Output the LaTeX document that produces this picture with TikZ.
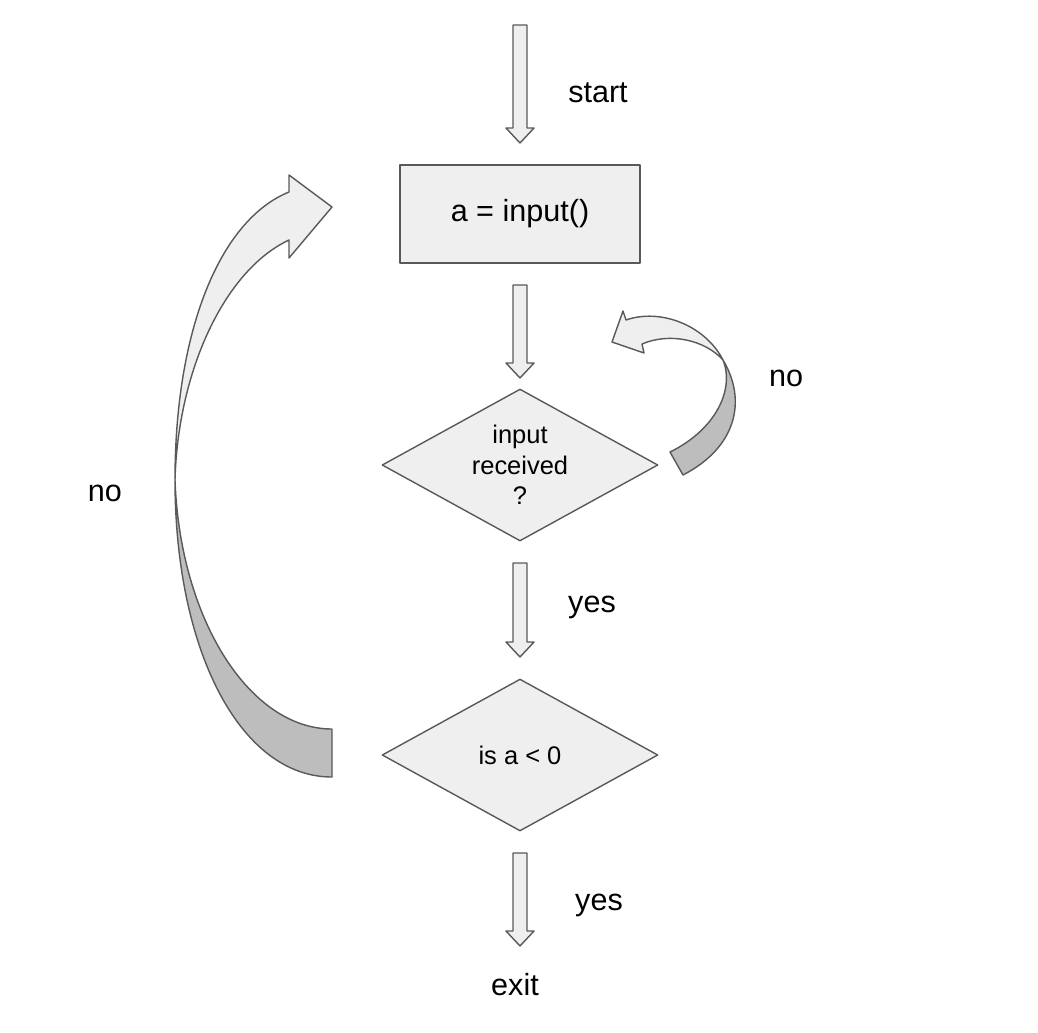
\documentclass[tikz,border=0pt]{standalone}
\usepackage{fontspec}
\setmainfont{Liberation Sans}
\usetikzlibrary{shapes.geometric,calc}
\definecolor{edgegray}{HTML}{595959}
\definecolor{lightfill}{HTML}{EFEFEF}
\definecolor{darkfill}{HTML}{BDBDBD}
\newcommand{\bigtext}{\fontsize{17.4}{20.9}\selectfont}
\newcommand{\smalltext}{\fontsize{14.5}{17.4}\selectfont}
\newcommand{\blockarrow}[2]{\draw[blockarr] ($(#1)+(-7,0)$) -- ($(#2)+(-7,-15)$) -- ($(#2)+(-14,-15)$) -- (#2)
  -- ($(#2)+(14,-15)$) -- ($(#2)+(7,-15)$) -- ($(#1)+(7,0)$) -- cycle;}
\begin{document}
\begin{tikzpicture}
[x=0.02cm, y=-0.02cm, font=\bigtext, line join=round]
\tikzstyle{blockarr}=[draw=edgegray, fill=lightfill, line width=0.8pt]
\tikzstyle{process}=[rectangle, draw=edgegray, fill=lightfill, line width=0.8pt, minimum width=4.8cm, minimum height=1.96cm]
\tikzstyle{decision}=[diamond, draw=edgegray, fill=lightfill, line width=0.8pt, aspect=1.816, minimum width=5.52cm, minimum height=3.04cm, inner sep=0pt, font=\smalltext, align=center]
\tikzstyle{lightband}=[draw=edgegray, fill=lightfill, line width=0.8pt]
\tikzstyle{darkband}=[draw=edgegray, fill=darkfill, line width=0.8pt]
\useasboundingbox (0,0) rectangle (1038,1032);

\node[process]	(read)		at (520,214)	{a = input()};
\node[decision]	(received)	at (520,465)	{input\\received\\?};
\node[decision]	(negative)	at (520,755)	{is a < 0};

\node (start)	at (598,93)		{start};
\node (exit)	at (515,985)	{exit};
\node (yesA)	at (592,607)	{yes};
\node (yesB)	at (599,905)	{yes};
\node (noA)		at (786,378)	{no};
\node (noB)		at (105,493)	{no};

\coordinate (inS)	at (520,25);	\coordinate (inE)	at (520,143);
\coordinate (rdS)	at (520,285);	\coordinate (rdE)	at (520,378);
\coordinate (rcS)	at (520,563);	\coordinate (rcE)	at (520,657);
\coordinate (ngS)	at (520,853);	\coordinate (ngE)	at (520,946);
\blockarrow{inS}{inE}
\blockarrow{rdS}{rdE}
\blockarrow{rcS}{rcE}
\blockarrow{ngS}{ngE}

\coordinate (twistL)	at (175,480);
\coordinate (tipL)		at (332,207);
\draw[darkband] (twistL) .. controls (175,650) and (240,777) .. (332,777) -- (332,729)
	.. controls (250,729) and (180,620) .. (twistL) -- cycle;
\draw[lightband] (twistL) .. controls (175,330) and (220,220) .. (289,192) -- (289,175) -- (tipL)
	-- (289,258) -- (289,240) .. controls (225,270) and (178,370) .. (twistL) -- cycle;

\coordinate (twistR)	at (723,360);
\coordinate (tipR)		at (612,342);
\draw[darkband] (twistR) .. controls (747,400) and (737,447) .. (683,475) -- (670,452)
	.. controls (715,430) and (735,390) .. (twistR) -- cycle;
\draw[lightband] (twistR) .. controls (705,325) and (660,308) .. (626,320) -- (623,311) -- (tipR)
	-- (644,353) -- (642,344) .. controls (670,332) and (705,340) .. (twistR) -- cycle;
\end{tikzpicture}
\end{document}
